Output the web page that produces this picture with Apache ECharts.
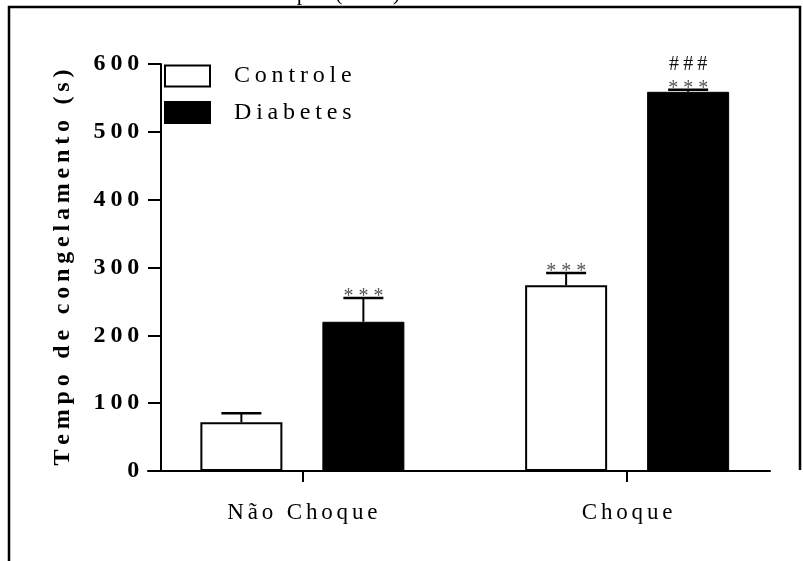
<!DOCTYPE html>
<html>
<head>
<meta charset="utf-8">
<script src="https://cdn.jsdelivr.net/npm/echarts@6/dist/echarts.min.js"></script>
<style>html,body{margin:0;padding:0;background:#fff}#c{width:803px;height:561px}</style>
</head>
<body>
<div id="c"></div>
<script>
// ---- data ----
const categories = ['Não Choque', 'Choque'];
const seriesNames = ['Controle', 'Diabetes'];
const controleMean = [72, 274];
const controleSem = [13, 18];
const diabetesMean = [220, 559];
const diabetesSem = [35, 3];
const controleStars = ['', '***'];
const diabetesStars = ['***', '***'];
const diabetesHash = ['', '###'];
const yTicks = [0, 100, 200, 300, 400, 500, 600];
const yTitle = 'Tempo de congelamento (s)';

// ---- helpers ----
const FONT = "'Liberation Serif', 'Times New Roman', serif";
const sp = (s, ch) => Array.from(s).join(ch);
const BAR_W = 82;
const BAR_GAP = 40;
const OFFS = [-(BAR_W + BAR_GAP) / 2, (BAR_W + BAR_GAP) / 2];

function errSeries(si, means, sems, stars, hashes) {
  return {
    type: 'custom',
    xAxisIndex: 0, yAxisIndex: 0,
    z: 5,
    silent: true,
    data: means.map((m, i) => [i, m, sems[i]]),
    renderItem: function (params, api) {
      const i = params.dataIndex;
      const idx = api.value(0), m = api.value(1), s = api.value(2);
      const p0 = api.coord([idx, m]);
      const p1 = api.coord([idx, m + s]);
      const x = p0[0] + OFFS[si];
      const capHalf = 20;
      const ch = [
        { type: 'line', shape: { x1: x, y1: p0[1], x2: x, y2: p1[1] }, style: { stroke: '#000', lineWidth: 2 } },
        { type: 'line', shape: { x1: x - capHalf, y1: p1[1], x2: x + capHalf, y2: p1[1] }, style: { stroke: '#000', lineWidth: 2.5 } }
      ];
      if (stars[i]) {
        ch.push({ type: 'text', style: { text: sp(stars[i], ' '), x: x, y: p1[1] + 9, textAlign: 'center', textVerticalAlign: 'bottom', font: '20px ' + FONT, fill: '#555' } });
      }
      if (hashes && hashes[i]) {
        ch.push({ type: 'text', style: { text: sp(hashes[i], '\u2009'), x: x, y: p1[1] - 25, textAlign: 'center', textVerticalAlign: 'middle', font: '20px ' + FONT, fill: '#111' } });
      }
      return { type: 'group', children: ch };
    }
  };
}

const chart = echarts.init(document.getElementById('c'), null, { renderer: 'canvas' });
const option = {
  animation: false,
  backgroundColor: '#fff',
  textStyle: { fontFamily: FONT },
  grid: [
    { left: 140, right: 13.5, top: 64, bottom: 90 },
    { left: 148, right: 33, top: 64, bottom: 90 }
  ],
  legend: {
    orient: 'vertical',
    left: 164, top: 64, padding: 0,
    itemWidth: 45, itemHeight: 21, itemGap: 12.5,
    icon: 'rect',
    data: seriesNames,
    formatter: n => sp(n, '\u2009'),
    textStyle: { fontFamily: FONT, fontSize: 24, lineHeight: 24, color: '#000', padding: [0, 0, 0, 19] }
  },
  xAxis: [
    {
      type: 'category', gridIndex: 0, data: categories,
      axisLine: { show: true, lineStyle: { color: 'rgba(0,0,0,0)' } },
      axisTick: { show: true, alignWithLabel: true, length: 11, lineStyle: { color: '#000', width: 2 } },
      axisLabel: { margin: 30, fontFamily: FONT, fontSize: 23, color: '#000', formatter: v => sp(v, '\u2006') },
      splitLine: { show: false }
    },
    {
      type: 'value', gridIndex: 1, min: 0, max: 1,
      axisLine: { show: true, onZero: false, lineStyle: { color: '#000', width: 2 } },
      axisTick: { show: false }, axisLabel: { show: false }, splitLine: { show: false }
    }
  ],
  yAxis: [
    {
      type: 'value', gridIndex: 0, min: 0, max: 600, interval: 100, offset: -21,
      name: sp(yTitle, '\u2009'), nameLocation: 'middle', nameGap: 86,
      nameTextStyle: { fontFamily: FONT, fontSize: 24, fontWeight: 'bold', color: '#000' },
      axisLine: { show: true, lineStyle: { color: '#000', width: 2 } },
      axisTick: { show: true, length: 13, lineStyle: { color: '#000', width: 2 } },
      axisLabel: { margin: 17, fontFamily: FONT, fontSize: 24, fontWeight: 'bold', color: '#000',
        formatter: v => yTicks.includes(v) ? sp(String(v), '\u2009') + '\u2009' : '' },
      splitLine: { show: false }
    },
    { type: 'value', gridIndex: 1, show: false, min: 0, max: 1 }
  ],
  series: [
    {
      name: seriesNames[0], type: 'bar', xAxisIndex: 0, yAxisIndex: 0,
      data: controleMean, barWidth: BAR_W, barGap: (BAR_GAP / BAR_W * 100) + '%',
      itemStyle: { color: '#fff', borderColor: '#000', borderWidth: 2 }
    },
    {
      name: seriesNames[1], type: 'bar', xAxisIndex: 0, yAxisIndex: 0,
      data: diabetesMean, barWidth: BAR_W,
      itemStyle: { color: '#000', borderColor: '#000', borderWidth: 1 }
    },
    errSeries(0, controleMean, controleSem, controleStars, null),
    errSeries(1, diabetesMean, diabetesSem, diabetesStars, diabetesHash)
  ],
  graphic: [
    { type: 'polyline', silent: true, z: 100,
      shape: { points: [[9, 561], [9, 7], [800, 7], [800, 470]] },
      style: { stroke: '#000', lineWidth: 2.5, fill: null } },
    { type: 'text', silent: true, z: 100,
      style: { text: 'T e m p o  ( s e c )', x: 240, y: 5, textAlign: 'left', textVerticalAlign: 'bottom', font: '22px ' + FONT, fill: '#000' } }
  ]
};
chart.setOption(option);
</script>
</body>
</html>
